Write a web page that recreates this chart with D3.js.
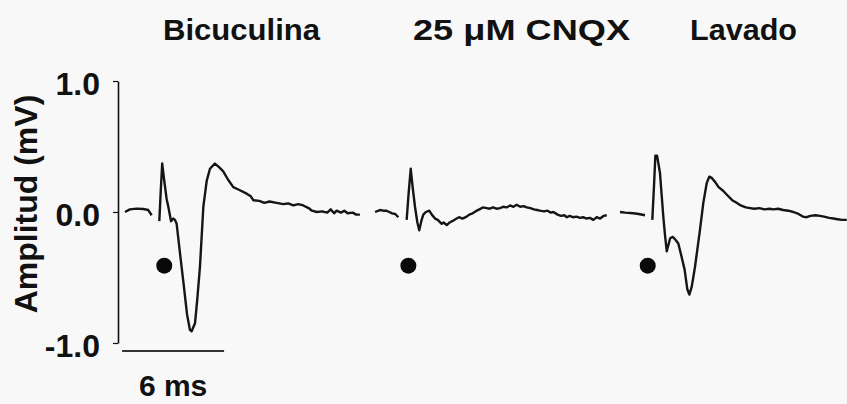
<!DOCTYPE html>
<html>
<head>
<meta charset="utf-8">
<script src="https://cdn.jsdelivr.net/npm/d3@7"></script>
<style>
  html, body { margin: 0; padding: 0; background: #f8f8f8; }
  svg { display: block; }
  text { font-family: "Liberation Sans", Arial, sans-serif; font-weight: bold; fill: #111; }
</style>
</head>
<body>
<div id="chart"></div>
<script>
// panel names and the start time of each sweep (ms)
var panels = ["Bicuculina", "25 \u03bcM CNQX", "Lavado"];
var panelStart = [0.41, 15.06, 29.53];

// stimulus time (ms, relative to sweep start) and level of the marker (mV)
var stimTime = [2.31, 2.02, 1.63];
var stimLevel = -0.41;

// y ticks
var yTicks = [-1.0, 0.0, 1.0];
var scaleBarMs = 6;

// traces: [time ms, amplitude mV], split before / after the stimulus artifact
var bicuculinaPre = [[0, 0.0], [0.29, 0.02], [0.69, 0.026], [1.08, 0.023], [1.37, 0.015], [1.57, -0.025]];
var bicuculinaResp = [
  [2.02, -0.07], [2.1, 0.15], [2.19, 0.37], [2.3, 0.25], [2.45, 0.10], [2.55, 0.04], [2.71, -0.07],
  [2.85, -0.05], [2.94, -0.06], [3.04, -0.09], [3.25, -0.33], [3.45, -0.55], [3.65, -0.78],
  [3.82, -0.90], [3.92, -0.91], [4.12, -0.85], [4.25, -0.67], [4.41, -0.42], [4.61, 0.04],
  [4.81, 0.24], [5.0, 0.33], [5.29, 0.37], [5.55, 0.34], [5.78, 0.31], [6.05, 0.25], [6.37, 0.19],
  [6.7, 0.17], [7.16, 0.14], [7.4, 0.12], [7.55, 0.09], [7.9, 0.085], [8.2, 0.07], [8.5, 0.08],
  [8.92, 0.07], [9.3, 0.06], [9.6, 0.065], [9.9, 0.05], [10.2, 0.06], [10.49, 0.05], [10.8, 0.03],
  [11.0, 0.01], [11.28, 0.0], [11.6, 0.005], [11.9, -0.005], [12.1, 0.02], [12.3, -0.01],
  [12.45, 0.01], [12.7, -0.005], [12.9, 0.01], [13.1, -0.01], [13.4, -0.005], [13.6, -0.02], [13.82, -0.02]
];

var cnqxPre = [[0.06, 0.0], [0.35, 0.015], [0.55, 0.01], [0.71, 0.01], [0.9, 0.0], [1.06, -0.01], [1.25, -0.015], [1.43, -0.04]];
var cnqxResp = [
  [1.92, -0.06], [2.04, 0.15], [2.16, 0.33], [2.28, 0.18], [2.41, 0.04], [2.55, -0.08], [2.66, -0.14],
  [2.78, -0.07], [2.9, -0.02], [3.05, 0.0], [3.25, 0.01], [3.4, -0.02], [3.59, -0.05], [3.75, -0.06],
  [3.98, -0.09], [4.1, -0.08], [4.28, -0.10], [4.45, -0.08], [4.6, -0.07], [4.86, -0.05], [5.0, -0.04],
  [5.2, -0.05], [5.45, -0.035], [5.6, -0.02], [5.8, -0.01], [6.04, 0.01], [6.2, 0.02], [6.4, 0.035],
  [6.63, 0.03], [6.8, 0.025], [7.0, 0.035], [7.2, 0.025], [7.41, 0.03], [7.6, 0.04], [7.8, 0.035],
  [8.0, 0.05], [8.2, 0.04], [8.39, 0.055], [8.6, 0.04], [8.8, 0.045], [8.98, 0.035], [9.2, 0.03],
  [9.4, 0.02], [9.6, 0.015], [9.76, 0.01], [10.0, 0.005], [10.2, 0.01], [10.4, -0.005], [10.55, 0.0],
  [10.8, -0.02], [11.0, -0.03], [11.2, -0.025], [11.34, -0.04], [11.5, -0.03], [11.7, -0.04],
  [11.9, -0.035], [12.12, -0.045], [12.3, -0.04], [12.5, -0.05], [12.7, -0.045], [12.9, -0.06],
  [13.1, -0.04], [13.3, -0.05], [13.5, -0.03], [13.69, -0.025]
];

var lavadoPre = [[0, 0.0], [0.3, -0.005], [0.78, -0.01], [1.1, -0.015], [1.47, -0.025]];
var lavadoResp = [
  [1.9, -0.06], [2.0, 0.2], [2.08, 0.43], [2.18, 0.43], [2.35, 0.30], [2.45, 0.13], [2.55, -0.04],
  [2.65, -0.18], [2.75, -0.30], [2.95, -0.20], [3.1, -0.19], [3.25, -0.21], [3.43, -0.24], [3.6, -0.33],
  [3.8, -0.44], [3.96, -0.59], [4.08, -0.63], [4.22, -0.57], [4.41, -0.42], [4.7, -0.14], [4.9, 0.07],
  [5.1, 0.22], [5.25, 0.27], [5.4, 0.26], [5.59, 0.23], [5.8, 0.19], [6.08, 0.16], [6.3, 0.13],
  [6.6, 0.09], [6.86, 0.07], [7.1, 0.05], [7.4, 0.035], [7.65, 0.03], [7.9, 0.025], [8.2, 0.03],
  [8.5, 0.02], [8.8, 0.025], [9.02, 0.02], [9.3, 0.025], [9.6, 0.015], [9.9, 0.01], [10.2, 0.0],
  [10.5, -0.015], [10.75, -0.035], [10.98, -0.04], [11.2, -0.03], [11.5, -0.025], [11.76, -0.03],
  [12.0, -0.035], [12.3, -0.045], [12.55, -0.05], [12.8, -0.055], [13.05, -0.06], [13.34, -0.06]
];

var traces = [
  [bicuculinaPre, bicuculinaResp],
  [cnqxPre, cnqxResp],
  [lavadoPre, lavadoResp]
];

var width = 847, height = 404;
var axisX = 118;
// title centres and widths in px
var titleX = [241.5, 521.5, 743.5];
var titleW = [157, 217, 107];

var svg = d3.select("#chart").append("svg")
    .attr("width", width)
    .attr("height", height);

svg.append("rect").attr("width", width).attr("height", height).attr("fill", "#f8f8f8");

// 17 px per ms, 131 px per mV
var x = d3.scaleLinear().domain([0, 43]).range([axisX, axisX + 43 * 17]);
var y = d3.scaleLinear().domain([-1, 1]).range([343, 81]);

var line = d3.line()
    .x(function(d) { return x(d[0]); })
    .y(function(d) { return y(d[1]); });

// y axis
var yAxis = svg.append("g")
    .attr("transform", "translate(" + axisX + ",0)")
    .call(d3.axisLeft(y)
      .tickValues(yTicks)
      .tickFormat(function(d) { return d.toFixed(1); })
      .tickSize(5)
      .tickSizeOuter(0)
      .tickPadding(13));
yAxis.select(".domain").attr("stroke", "#111").attr("stroke-width", 1.6);
yAxis.selectAll(".tick line").attr("stroke", "#111").attr("stroke-width", 1.2);
yAxis.selectAll(".tick text")
    .attr("fill", "#111")
    .style("font-size", "32px")
    .style("font-family", "'Liberation Sans', Arial, sans-serif")
    .style("font-weight", "bold")
    .attr("dy", "0.42em");

svg.append("text")
    .attr("transform", "translate(37,204) rotate(-90)")
    .attr("text-anchor", "middle")
    .style("font-size", "32px")
    .text("Amplitud (mV)");

// titles
svg.selectAll(".title")
    .data(panels)
    .enter().append("text")
    .attr("class", "title")
    .attr("x", function(d, i) { return titleX[i] - titleW[i] / 2; })
    .attr("y", 40)
    .attr("textLength", function(d, i) { return titleW[i]; })
    .attr("lengthAdjust", "spacingAndGlyphs")
    .style("font-size", "30px")
    .text(function(d) { return d; });

// traces
traces.forEach(function(segs, i) {
  var g = svg.append("g")
      .attr("transform", "translate(" + (x(panelStart[i]) - x(0)) + ",0)");
  segs.forEach(function(seg) {
    g.append("path")
        .datum(seg)
        .attr("fill", "none")
        .attr("stroke", "#151515")
        .attr("stroke-width", 2.4)
        .attr("stroke-linejoin", "round")
        .attr("d", line);
  });
  g.append("circle")
      .attr("cx", x(stimTime[i]))
      .attr("cy", y(stimLevel))
      .attr("r", 8)
      .attr("fill", "#0a0a0a");
});

// scale bar
svg.append("line")
    .attr("x1", x(0.24))
    .attr("x2", x(0.24 + scaleBarMs))
    .attr("y1", 351)
    .attr("y2", 351)
    .attr("stroke", "#333")
    .attr("stroke-width", 2);

svg.append("text")
    .attr("x", x(0.24 + scaleBarMs / 2))
    .attr("y", 396)
    .attr("text-anchor", "middle")
    .style("font-size", "30px")
    .text(scaleBarMs + " ms");
</script>
</body>
</html>
